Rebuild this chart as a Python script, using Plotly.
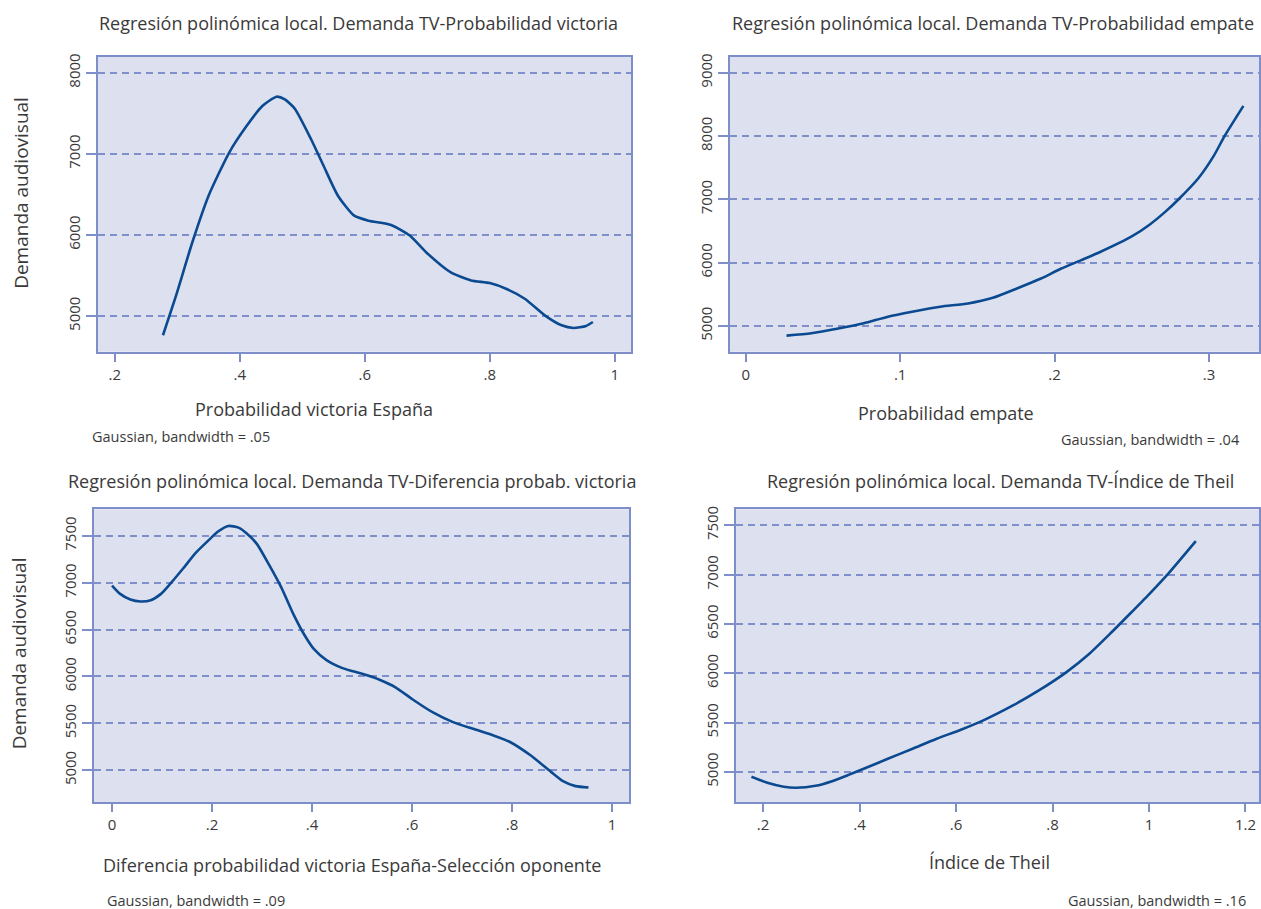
import plotly.graph_objects as go

# ---------------- data ----------------
x_victoria = [0.277, 0.298, 0.324, 0.350, 0.383, 0.409, 0.436, 0.459, 0.472, 0.488, 0.514, 0.534,
              0.557, 0.583, 0.606, 0.642, 0.672, 0.698, 0.737, 0.770, 0.800, 0.826, 0.856, 0.888,
              0.915, 0.934, 0.954, 0.965]
y_victoria = [4763, 5254, 5910, 6484, 7016, 7324, 7590, 7705, 7672, 7557, 7180, 6853,
              6484, 6238, 6176, 6123, 5992, 5787, 5541, 5439, 5406, 5336, 5213, 5008,
              4885, 4853, 4877, 4926]

x_empate = [0.0264, 0.0425, 0.0608, 0.0764, 0.0921, 0.1078, 0.126, 0.144, 0.160, 0.1756, 0.1912,
            0.2043, 0.2173, 0.2292, 0.2497, 0.2615, 0.272, 0.2805, 0.293, 0.3034, 0.31, 0.3223]
y_empate = [4848, 4884, 4963, 5042, 5147, 5225, 5304, 5356, 5445, 5592, 5749,
            5907, 6040, 6165, 6410, 6600, 6810, 7006, 7330, 7700, 7995, 8477]

x_diferencia = [0.0, 0.0163, 0.0367, 0.057, 0.0776, 0.098, 0.118, 0.143, 0.167, 0.192, 0.212, 0.233,
                0.253, 0.269, 0.290, 0.314, 0.339, 0.363, 0.384, 0.404, 0.429, 0.461, 0.502, 0.535,
                0.567, 0.600, 0.641, 0.682, 0.722, 0.763, 0.796, 0.837, 0.878, 0.902, 0.927, 0.953]
y_diferencia = [6970, 6881, 6821, 6800, 6814, 6881, 6998, 7157, 7316, 7447, 7546, 7606,
                7588, 7528, 7412, 7192, 6945, 6662, 6450, 6291, 6174, 6089, 6025, 5965,
                5884, 5760, 5619, 5513, 5442, 5371, 5301, 5159, 4982, 4883, 4830, 4816]

x_theil = [0.176, 0.209, 0.243, 0.268, 0.309, 0.343, 0.376, 0.41, 0.46, 0.51, 0.56, 0.61, 0.66,
           0.719, 0.77, 0.829, 0.877, 0.919, 0.96, 1.0, 1.04, 1.097]
y_theil = [4950, 4889, 4849, 4839, 4859, 4906, 4967, 5034, 5135, 5235, 5336, 5427, 5530,
           5676, 5820, 6011, 6200, 6398, 6600, 6800, 7010, 7339]

xt1_vals = [0.2, 0.4, 0.6, 0.8, 1.0]
xt1_text = [".2", ".4", ".6", ".8", "1"]
yt1_vals = [5000, 6000, 7000, 8000]

xt2_vals = [0.0, 0.1, 0.2, 0.3]
xt2_text = ["0", ".1", ".2", ".3"]
yt2_vals = [5000, 6000, 7000, 8000, 9000]

xt3_vals = [0.0, 0.2, 0.4, 0.6, 0.8, 1.0]
xt3_text = ["0", ".2", ".4", ".6", ".8", "1"]
yt3_vals = [5000, 5500, 6000, 6500, 7000, 7500]

xt4_vals = [0.2, 0.4, 0.6, 0.8, 1.0, 1.2]
xt4_text = [".2", ".4", ".6", ".8", "1", "1.2"]
yt4_vals = [5000, 5500, 6000, 6500, 7000, 7500]

titles = ["Regresión polinómica local. Demanda TV-Probabilidad victoria",
          "Regresión polinómica local. Demanda TV-Probabilidad empate",
          "Regresión polinómica local. Demanda TV-Diferencia probab. victoria",
          "Regresión polinómica local. Demanda TV-Índice de Theil"]
xtitles = ["Probabilidad victoria España", "Probabilidad empate",
           "Diferencia probabilidad victoria España-Selección oponente", "Índice de Theil"]
ytitle = "Demanda audiovisual"
notes = ["Gaussian, bandwidth = .05", "Gaussian, bandwidth = .04",
         "Gaussian, bandwidth = .09", "Gaussian, bandwidth = .16"]

# ---------------- style ----------------
W, H = 1261, 909
FONT = "Open Sans"
TXT = "#3a3a3a"
FRAME = "#7d8ec9"
GRID = "#7f8fcb"
FILL = "#dde1ef"
LINE = "#0b4a91"

def px(x):
    return x / W

def py(y):
    return 1 - y / H

fig = go.Figure()

panels = [
    dict(x=x_victoria, y=y_victoria, xd=[px(98), px(631)], yd=[py(350), py(54)],
         xr=[0.173, 1.026], yr=[4558, 8197], xtv=xt1_vals, xtt=xt1_text, ytv=yt1_vals),
    dict(x=x_empate, y=y_empate, xd=[px(730), px(1259)], yd=[py(350), py(54)],
         xr=[-0.0102, 0.3324], yr=[4591, 9252], xtv=xt2_vals, xtt=xt2_text, ytv=yt2_vals),
    dict(x=x_diferencia, y=y_diferencia, xd=[px(94), px(629)], yd=[py(802), py(508)],
         xr=[-0.036, 1.034], yr=[4657, 7783], xtv=xt3_vals, xtt=xt3_text, ytv=yt3_vals),
    dict(x=x_theil, y=y_theil, xd=[px(736), px(1259)], yd=[py(802), py(508)],
         xr=[0.144, 1.228], yr=[4691, 7661], xtv=xt4_vals, xtt=xt4_text, ytv=yt4_vals),
]

layout = {}
for i, p in enumerate(panels, start=1):
    xa = "x" if i == 1 else f"x{i}"
    ya = "y" if i == 1 else f"y{i}"
    fig.add_trace(go.Scatter(x=p["x"], y=p["y"], mode="lines", xaxis=xa, yaxis=ya,
                             line=dict(color=LINE, width=2.6, shape="spline", smoothing=0.6),
                             showlegend=False, hoverinfo="skip"))
    layout["xaxis" if i == 1 else f"xaxis{i}"] = dict(
        domain=p["xd"], anchor=ya, range=p["xr"], tickvals=p["xtv"], ticktext=p["xtt"],
        showgrid=False, zeroline=False, showline=True, mirror=True, linecolor=FRAME,
        linewidth=2, ticks="outside", ticklen=8, tickwidth=1.5, tickcolor=FRAME,
        tickfont=dict(family=FONT, size=15, color=TXT), fixedrange=True)
    layout["yaxis" if i == 1 else f"yaxis{i}"] = dict(
        domain=p["yd"], anchor=xa, range=p["yr"], tickvals=p["ytv"],
        ticktext=[str(v) for v in p["ytv"]], tickangle=-90,
        showgrid=True, gridcolor=GRID, gridwidth=1.5, griddash="7px,5px",
        zeroline=False, showline=True, mirror=True, linecolor=FRAME, linewidth=2,
        ticks="outside", ticklen=10, tickwidth=1.5, tickcolor=GRID,
        tickfont=dict(family=FONT, size=15, color=TXT), fixedrange=True)
    fig.add_shape(type="rect", xref=f"{xa} domain", yref=f"{ya} domain",
                  x0=0, x1=1, y0=0, y1=1, fillcolor=FILL, line=dict(width=0), layer="below")

ann = []
for t, (cx, cy) in zip(titles, [(358.5, 20), (993, 20), (351.6, 480), (1000.5, 480)]):
    ann.append(dict(text=t, x=px(cx), y=py(cy), xref="paper", yref="paper",
                    xanchor="center", yanchor="middle", showarrow=False,
                    font=dict(family=FONT, size=18, color=TXT)))
for t, (cx, cy) in zip(xtitles, [(313.5, 407), (946, 411), (352.2, 865), (989, 862)]):
    ann.append(dict(text=t, x=px(cx), y=py(cy), xref="paper", yref="paper",
                    xanchor="center", yanchor="middle", showarrow=False,
                    font=dict(family=FONT, size=18, color=TXT)))
for (cx, cy) in [(21.5, 191), (18.5, 653)]:
    ann.append(dict(text=ytitle, x=px(cx), y=py(cy), xref="paper", yref="paper",
                    xanchor="center", yanchor="middle", showarrow=False, textangle=-90,
                    font=dict(family=FONT, size=19, color=TXT)))
for t, (cx, cy, anc) in zip(notes, [(90, 435, "left"), (1242, 438, "right"),
                                    (105, 900, "left"), (1248, 900, "right")]):
    ann.append(dict(text=t, x=px(cx), y=py(cy), xref="paper", yref="paper",
                    xanchor=anc, yanchor="middle", showarrow=False,
                    font=dict(family=FONT, size=14.5, color=TXT)))

fig.update_layout(
    width=W, height=H, margin=dict(l=0, r=0, t=0, b=0),
    paper_bgcolor="white", plot_bgcolor="white",
    annotations=ann, **layout)

fig.write_html("out.html", config={"displayModeBar": False},
               post_script="document.body.style.margin='0';document.body.style.overflow='hidden';")
